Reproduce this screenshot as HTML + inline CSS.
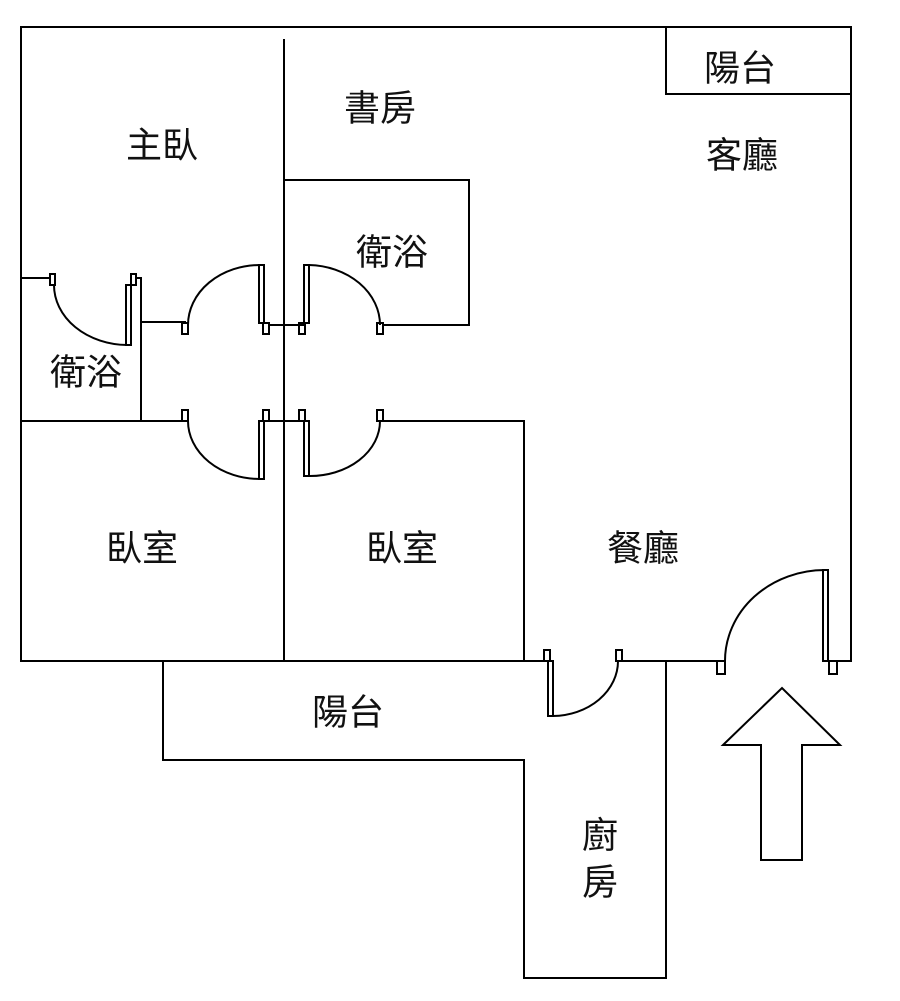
<!DOCTYPE html>
<html><head><meta charset="utf-8"><style>
html,body{margin:0;padding:0;background:#fff;}
svg{display:block}
text{font-family:"Liberation Sans","Noto Sans CJK TC",sans-serif;font-size:36px;fill:#111;text-anchor:middle;dominant-baseline:central}
</style></head><body>
<svg width="900" height="1001" viewBox="0 0 900 1001" xmlns="http://www.w3.org/2000/svg">
<g fill="none" stroke="#000" stroke-width="2">
<!-- outer -->
<polyline points="547,661 21,661 21,27 851,27 851,661 830,661"/>
<line x1="620" y1="661" x2="720" y2="661"/>
<polyline points="666,27 666,94 851,94"/>
<!-- central wall -->
<line x1="284" y1="39" x2="284" y2="661"/>
<!-- bath 2 -->
<polyline points="284,180 469,180 469,325 382,325"/>
<line x1="269" y1="325" x2="304" y2="325"/>
<!-- left bath -->
<line x1="21" y1="278" x2="50" y2="278"/>
<polyline points="137,278 141,278 141,421"/>
<line x1="141" y1="322" x2="186" y2="322"/>
<line x1="21" y1="421" x2="186" y2="421"/>
<line x1="269" y1="421" x2="304" y2="421"/>
<polyline points="382,421 524,421 524,661"/>
<!-- bottom balcony/kitchen -->
<polyline points="163,661 163,760 524,760 524,978 666,978 666,661"/>
<!-- doors -->
<rect x="50" y="274" width="5" height="11"/>
<rect x="131" y="274" width="5" height="11"/>
<rect x="126" y="285" width="5" height="60"/>
<path d="M54,285 A74,60 0 0 0 127,345"/>

<rect x="182" y="323" width="6" height="11"/>
<rect x="263" y="323" width="6" height="11"/>
<rect x="259" y="265" width="5" height="58"/>
<path d="M188,325 A72,60 0 0 1 260,265"/>

<rect x="299" y="323" width="6" height="11"/>
<rect x="377" y="323" width="6" height="11"/>
<rect x="304" y="265" width="5" height="58"/>
<path d="M309,265 A73,60 0 0 1 380,325"/>

<rect x="182" y="410" width="6" height="11"/>
<rect x="263" y="410" width="6" height="11"/>
<rect x="259" y="421" width="5" height="58"/>
<path d="M188,421 A72,58 0 0 0 260,479"/>

<rect x="299" y="410" width="6" height="11"/>
<rect x="377" y="410" width="6" height="11"/>
<rect x="304" y="421" width="5" height="55"/>
<path d="M309,476 A70,55 0 0 0 380,421"/>

<rect x="544" y="650" width="6" height="11"/>
<rect x="616" y="650" width="6" height="11"/>
<rect x="548" y="661" width="5" height="55"/>
<path d="M553,716 A66,55 0 0 0 618,661"/>

<rect x="717" y="661" width="8" height="13"/>
<rect x="829" y="661" width="8" height="13"/>
<rect x="823" y="570" width="5" height="91"/>
<path d="M725,661 A100,91 0 0 1 825,570"/>
<!-- arrow -->
<polygon points="723,745 782,688 840,745 802,745 802,860 761,860 761,745"/>
</g>
<text x="162" y="145">主臥</text>
<text x="380" y="108">書房</text>
<text x="740" y="68">陽台</text>
<text x="742" y="155">客廳</text>
<text x="392" y="252">衛浴</text>
<text x="86" y="372">衛浴</text>
<text x="142" y="548">臥室</text>
<text x="402" y="548">臥室</text>
<text x="643" y="548">餐廳</text>
<text x="348" y="712">陽台</text>
<text x="600" y="835">廚</text>
<text x="600" y="882">房</text>
</svg>
</body></html>
